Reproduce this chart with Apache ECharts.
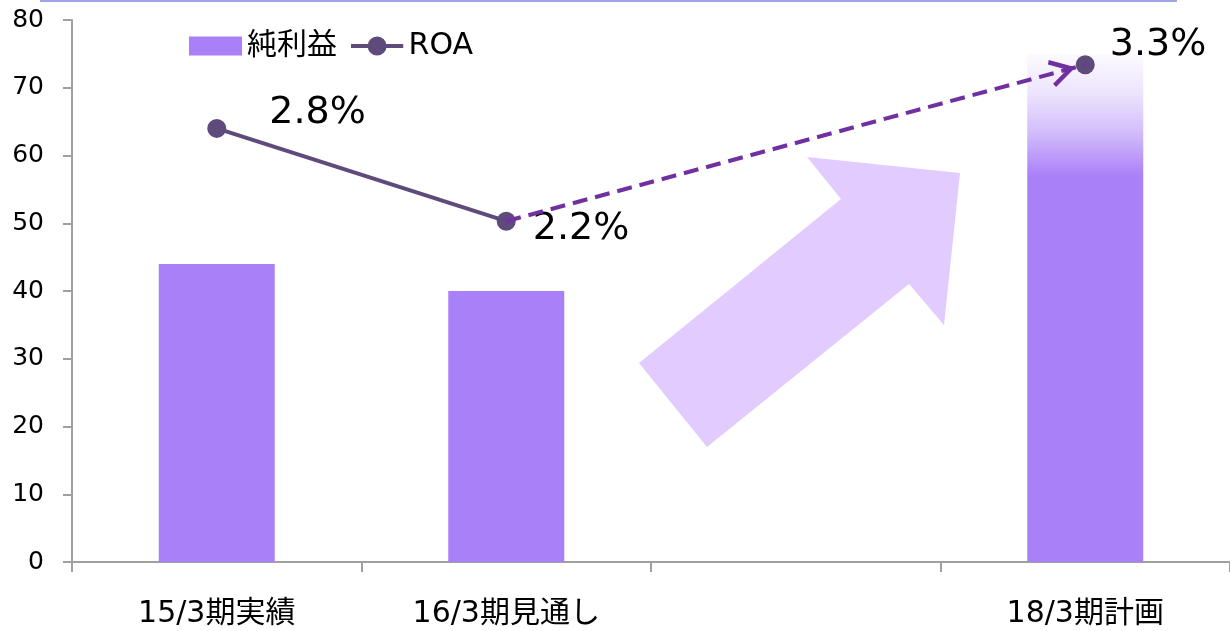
<!DOCTYPE html>
<html><head><meta charset="utf-8">
<script src="https://cdn.jsdelivr.net/npm/echarts@6/dist/echarts.min.js"></script>
<style>html,body{margin:0;padding:0;background:#fff}#c{width:1230px;height:631px}</style>
</head><body><div id="c"></div>
<script>
const categories = ['15/3期実績', '16/3期見通し', '', '18/3期計画'];
const netProfit = [44, 40, null, 75];
const roaPos = [64, 50.3, null, 73.4];
const roaLabels = ['2.8%', '2.2%', '', '3.3%'];
const yTicks = [0, 10, 20, 30, 40, 50, 60, 70, 80];

const FONT = '"DejaVu Sans", "Noto Sans CJK JP", sans-serif';
const barColor = '#aa80f8';
const chart = echarts.init(document.getElementById('c'));

const labelOffsets = [[38, -15], [12, 8], [10, -20]];
let li = 0;
const roaData = roaPos.map((v, i) => {
  if (v === null) return null;
  const off = labelOffsets[li++];
  return { value: v, label: { show: true, position: 'right', offset: off, formatter: roaLabels[i] } };
});
const barData = netProfit.map((v, i) => {
  if (i === 3) {
    return { value: v, itemStyle: { color: new echarts.graphic.LinearGradient(0, 0, 0, 1, [
      { offset: 0, color: 'rgba(170,128,248,0.03)' },
      { offset: 0.08, color: 'rgba(170,128,248,0.22)' },
      { offset: 0.16, color: 'rgba(170,128,248,0.55)' },
      { offset: 0.24, color: 'rgba(170,128,248,1)' },
      { offset: 1, color: 'rgba(170,128,248,1)' }
    ]) } };
  }
  return v;
});

const roaIcon = 'path://M0,8 L55,8 L55,12 L0,12 Z M17.5,10 A10,10 0 1,1 37.5,10 A10,10 0 1,1 17.5,10 Z';
// chevron arrow head, padded forward so its tip stops short of the end point
const chevron = 'path://M14,-46 L14.01,-46 M0,24 L14,0 L28,24 L24,26 L14,9 L4,26 Z';

chart.setOption({
  animation: false,
  textStyle: { fontFamily: FONT },
  grid: { left: 72, right: -4, top: 20, bottom: 69 },
  legend: {
    left: 189, top: 31, padding: 0, itemWidth: 53, itemHeight: 19, itemGap: 14,
    data: [
      { name: '純利益', icon: 'rect' },
      { name: 'ROA', icon: roaIcon, itemStyle: { color: '#5f4a7c', borderWidth: 0 } }
    ],
    textStyle: { fontSize: 30, color: '#000', fontFamily: FONT }
  },
  xAxis: {
    type: 'category', data: categories, boundaryGap: true,
    axisLine: { lineStyle: { color: '#a0a0a0', width: 2 } },
    axisTick: { show: true, length: 10, interval: 0, lineStyle: { color: '#a0a0a0', width: 2 } },
    axisLabel: { interval: 0, margin: 37, fontSize: 30, color: '#000', fontFamily: FONT }
  },
  yAxis: {
    type: 'value', min: yTicks[0], max: yTicks[yTicks.length - 1], interval: yTicks[1] - yTicks[0],
    splitLine: { show: false },
    axisLine: { show: true, lineStyle: { color: '#a0a0a0', width: 2 } },
    axisTick: { show: true, length: 9, lineStyle: { color: '#a0a0a0', width: 2 } },
    axisLabel: { margin: 28, fontSize: 25, color: '#000', fontFamily: FONT }
  },
  series: [
    { name: '純利益', type: 'bar', data: barData, barWidth: 116, itemStyle: { color: barColor } },
    { name: 'ROA見通し', type: 'line', data: [], z: 3,
      markLine: {
        silent: true, animation: false,
        symbol: ['none', chevron],
        symbolSize: [28, 72],
        label: { show: false },
        lineStyle: { color: '#7030a0', width: 4, type: [15, 8] },
        data: [[{ coord: [1, roaPos[1]] }, { coord: [3, roaPos[3]] }]]
      }
    },
    { name: 'ROA', type: 'line', data: roaData, connectNulls: false,
      symbol: 'circle', symbolSize: 19, z: 4,
      itemStyle: { color: '#5f4a7c' },
      lineStyle: { color: '#5f4a7c', width: 4 },
      label: { fontSize: 38, color: '#000', fontFamily: FONT }
    }
  ],
  graphic: [
    { type: 'rect', shape: { x: 40, y: 0, width: 1137, height: 2 }, style: { fill: '#a3a3ea' }, silent: true },
    { type: 'polygon', z: 1, silent: true,
      shape: { points: [[807, 157], [960, 173], [944, 325], [909, 284], [707, 447], [639, 363], [841, 199]] },
      style: { fill: '#e2cbfe' } }
  ]
});
</script>
</body></html>
